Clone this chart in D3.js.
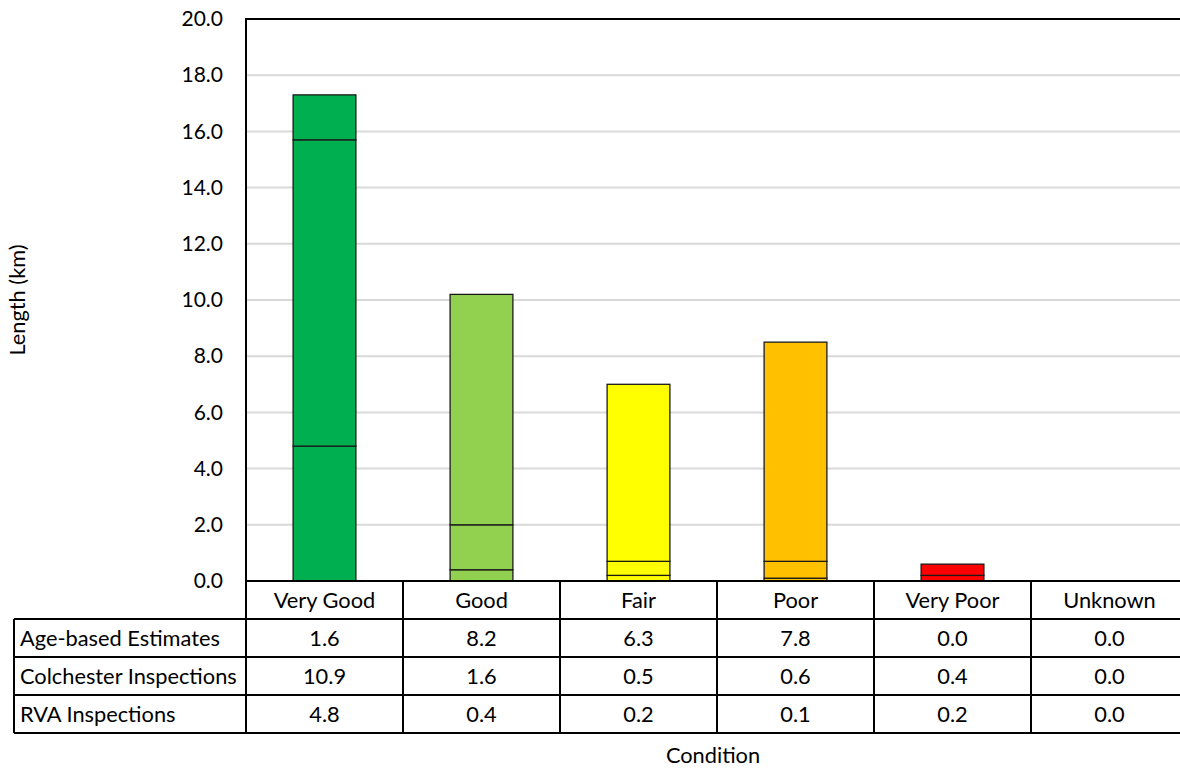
<!DOCTYPE html>
<html>
<head>
<meta charset="utf-8">
<script src="https://cdn.jsdelivr.net/npm/d3@7/dist/d3.min.js"></script>
<style>
  html, body { margin: 0; padding: 0; background: #fff; }
  svg { display: block; font-family: Lato, "Open Sans", sans-serif; }
</style>
</head>
<body>
<svg id="chart" width="1180" height="769"></svg>
<script>
// Condition categories and the three data sources (km)
const categories = ["Very Good", "Good", "Fair", "Poor", "Very Poor", "Unknown"];
const ageBased   = [1.6, 8.2, 6.3, 7.8, 0.0, 0.0];
const colchester = [10.9, 1.6, 0.5, 0.6, 0.4, 0.0];
const rva        = [4.8, 0.4, 0.2, 0.1, 0.2, 0.0];
const seriesNames = ["Age-based Estimates", "Colchester Inspections", "RVA Inspections"];
const barColors = ["#00B050", "#92D050", "#FFFF00", "#FFC000", "#FF0000", "#A6A6A6"];
const yTicks = [0, 2, 4, 6, 8, 10, 12, 14, 16, 18, 20];

const FS = 21.8;      // table and title text
const TICK_FS = 21;   // y axis labels
const svg = d3.select("#chart");
const plot = { left: 246, right: 1188, top: 19, bottom: 581 };
const tableLeft = 14;
const rowH = 38;

const x = d3.scaleBand().domain(categories).range([plot.left, plot.right]).paddingInner(0).paddingOuter(0);
const y = d3.scaleLinear().domain([0, 20]).range([plot.bottom, plot.top]);

// Horizontal gridlines
svg.append("g")
  .selectAll("line")
  .data(yTicks.filter(t => t > 0 && t < 20))
  .join("line")
  .attr("x1", plot.left).attr("x2", plot.right)
  .attr("y1", d => y(d)).attr("y2", d => y(d))
  .attr("stroke", "#d9d9d9").attr("stroke-width", 2);

// Y axis tick labels
const yAxis = d3.axisLeft(y).tickValues(yTicks).tickFormat(d3.format(".1f")).tickSize(0).tickPadding(23);
const yg = svg.append("g").attr("transform", `translate(${plot.left},0)`).call(yAxis);
yg.select(".domain").remove();
yg.selectAll("text").attr("font-size", TICK_FS).attr("fill", "#000").attr("font-family", "Lato, sans-serif");

// Stacked bars: RVA at the bottom, then Colchester, then age-based estimates
const rows = categories.map((c, i) => ({ cat: c, rva: rva[i], colchester: colchester[i], age: ageBased[i], color: barColors[i] }));
const stack = d3.stack().keys(["rva", "colchester", "age"]);
const layers = stack(rows);
const barW = x.bandwidth() * 0.4;

svg.append("g")
  .selectAll("g")
  .data(layers)
  .join("g")
  .selectAll("rect")
  .data(d => d.filter(s => s[1] - s[0] > 0))
  .join("rect")
  .attr("x", d => x(d.data.cat) + (x.bandwidth() - barW) / 2)
  .attr("width", barW)
  .attr("y", d => y(d[1]))
  .attr("height", d => y(d[0]) - y(d[1]))
  .attr("fill", d => d.data.color)
  .attr("stroke", "#1a1a1a")
  .attr("stroke-width", 1.3);

// Plot frame: top and left borders
svg.append("path")
  .attr("d", `M${plot.left},${plot.bottom} V${plot.top} H${plot.right}`)
  .attr("fill", "none").attr("stroke", "#000").attr("stroke-width", 2);

// Data table
const tableTop = plot.bottom;
const tableBottom = tableTop + rowH * 4;
const tg = svg.append("g").attr("stroke", "#000").attr("stroke-width", 2);

// horizontal rules
tg.append("line").attr("x1", plot.left).attr("x2", plot.right).attr("y1", tableTop).attr("y2", tableTop);
for (let r = 1; r <= 4; r++) {
  tg.append("line").attr("x1", tableLeft).attr("x2", plot.right)
    .attr("y1", tableTop + r * rowH).attr("y2", tableTop + r * rowH);
}
// vertical rules
tg.append("line").attr("x1", tableLeft).attr("x2", tableLeft).attr("y1", tableTop + rowH).attr("y2", tableBottom);
categories.forEach(c => {
  tg.append("line").attr("x1", x(c)).attr("x2", x(c)).attr("y1", tableTop).attr("y2", tableBottom);
});
tg.append("line").attr("x1", plot.right).attr("x2", plot.right).attr("y1", tableTop).attr("y2", tableBottom);

// category header labels
svg.append("g")
  .selectAll("text")
  .data(categories)
  .join("text")
  .attr("x", d => x(d) + x.bandwidth() / 2)
  .attr("y", tableTop + rowH / 2)
  .attr("dy", "0.35em")
  .attr("text-anchor", "middle")
  .attr("font-size", FS)
  .text(d => d);

// series rows
const seriesValues = [ageBased, colchester, rva];
seriesValues.forEach((vals, r) => {
  const cy = tableTop + rowH * (r + 1) + rowH / 2;
  svg.append("text")
    .attr("x", tableLeft + 6).attr("y", cy).attr("dy", "0.35em")
    .attr("font-size", FS)
    .text(seriesNames[r]);
  svg.append("g")
    .selectAll("text")
    .data(vals)
    .join("text")
    .attr("x", (d, i) => x(categories[i]) + x.bandwidth() / 2)
    .attr("y", cy).attr("dy", "0.35em")
    .attr("text-anchor", "middle")
    .attr("font-size", FS)
    .text(d => d3.format(".1f")(d));
});

// Axis titles
svg.append("text")
  .attr("transform", `translate(25,${(plot.top + plot.bottom) / 2}) rotate(-90)`)
  .attr("text-anchor", "middle")
  .attr("font-size", FS)
  .text("Length (km)");

svg.append("text")
  .attr("x", 713).attr("y", 755).attr("dy", "0.35em")
  .attr("text-anchor", "middle")
  .attr("font-size", FS)
  .text("Condition");
</script>
</body>
</html>
